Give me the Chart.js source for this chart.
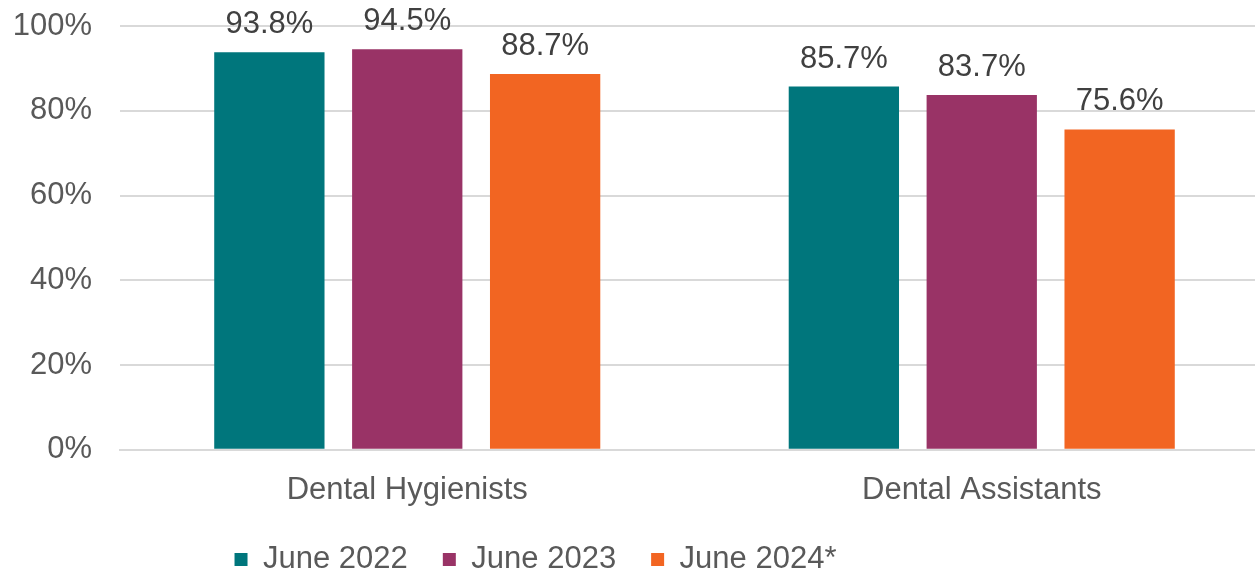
<!DOCTYPE html>
<html>
<head>
<meta charset="utf-8">
<script src="https://cdn.jsdelivr.net/npm/chart.js@4.4.1/dist/chart.umd.min.js"></script>
<style>
  html, body { margin: 0; padding: 0; background: #fff; overflow: hidden; }
  #wrap { width: 1269px; height: 571px; position: relative; }
</style>
</head>
<body>
<div id="wrap"><canvas id="plotCanvas"></canvas></div>
<script>
const categories = ['Dental Hygienists', 'Dental Assistants'];
const seriesNames = ['June 2022', 'June 2023', 'June 2024*'];
const june2022 = [93.8, 85.7];
const june2023 = [94.5, 83.7];
const june2024 = [88.7, 75.6];
const seriesColors = ['#00767C', '#993366', '#F26522'];

const FONT = '"Liberation Sans", Arial, sans-serif';

// draws the value above each bar
const barLabels = {
    id: 'barLabels',
    afterDatasetsDraw(chart) {
        const c = chart.ctx;
        c.save();
        c.font = '31px ' + FONT;
        c.fillStyle = '#404040';
        c.textAlign = 'center';
        c.textBaseline = 'bottom';
        chart.data.datasets.forEach((ds, i) => {
            chart.getDatasetMeta(i).data.forEach((bar, j) => {
                c.fillText(ds.data[j].toFixed(1) + '%', bar.x, bar.y - 12);
            });
        });
        c.restore();
    }
};

// nudge the legend left, like the original
const legendShift = {
    id: 'legendShift',
    afterLayout(chart) {
        chart.legend.left -= 99;
        chart.legend.right -= 99;
    }
};

const chart = new Chart(document.getElementById('plotCanvas'), {
    type: 'bar',
    data: {
        labels: categories,
        datasets: [june2022, june2023, june2024].map((d, i) => ({
            label: seriesNames[i],
            data: d,
            backgroundColor: seriesColors[i],
            barPercentage: 0.8,
            categoryPercentage: 0.72
        }))
    },
    options: {
        responsive: true,
        maintainAspectRatio: false,
        animation: false,
        layout: { padding: { top: 26, right: 0, left: 0, bottom: -14 } },
        plugins: {
            tooltip: { enabled: false },
            legend: {
                position: 'bottom',
                labels: {
                    boxWidth: 13,
                    boxHeight: 13,
                    padding: 35,
                    color: '#595959',
                    font: { family: FONT, size: 31 }
                }
            }
        },
        scales: {
            x: {
                grid: { display: false, drawTicks: false },
                border: { color: '#d9d9d9', width: 2 },
                ticks: { color: '#595959', padding: 22, font: { family: FONT, size: 31 } },
                afterFit: s => { s.height -= 22; }
            },
            y: {
                min: 0,
                max: 100,
                grid: { color: '#d9d9d9', lineWidth: 2, drawTicks: false },
                border: { display: false },
                ticks: {
                    stepSize: 20,
                    padding: 28,
                    color: '#595959',
                    font: { family: FONT, size: 31 },
                    callback: v => v + '%'
                },
                afterFit: s => {
                    s.width = 120;
                    s.paddingTop = 0;
                    s.paddingBottom = 0;
                }
            }
        }
    },
    plugins: [barLabels, legendShift]
});
</script>
</body>
</html>
